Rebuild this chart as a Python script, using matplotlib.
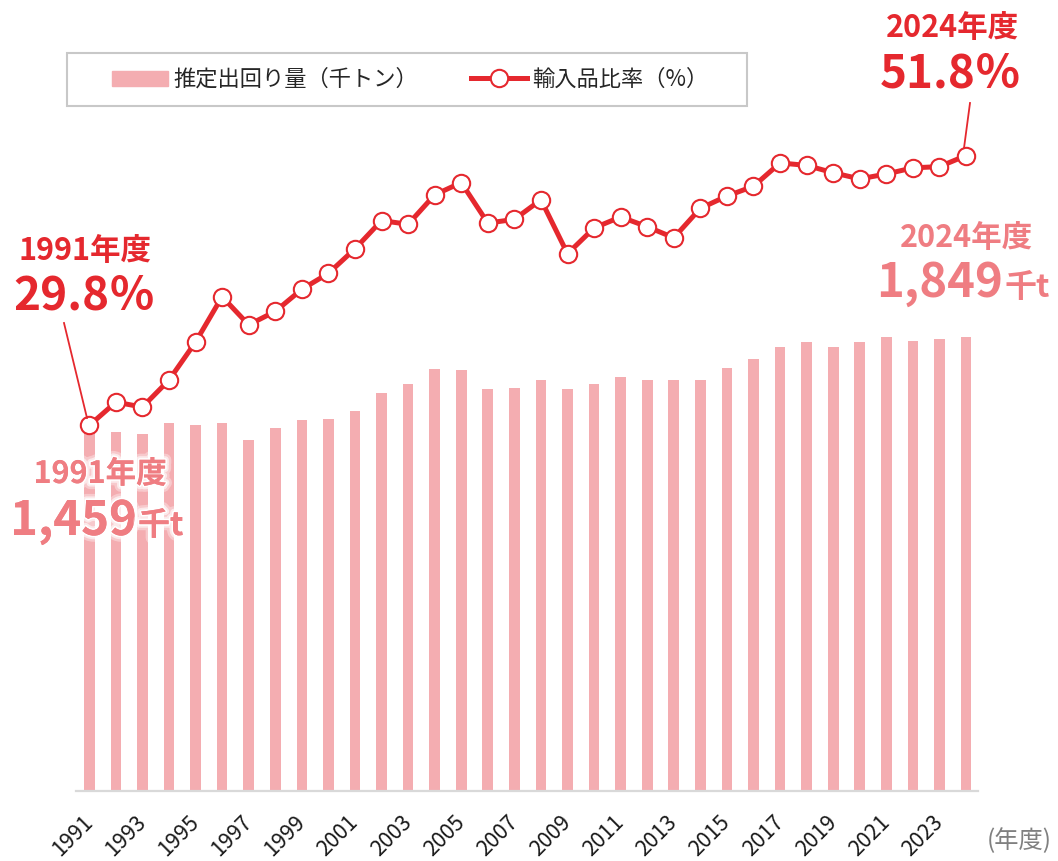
import matplotlib
matplotlib.use("Agg")
import matplotlib.pyplot as plt
import matplotlib.patheffects as pe
from matplotlib.patches import Rectangle, Patch
from matplotlib.lines import Line2D

plt.rcParams['font.family'] = ['Noto Sans CJK JP', 'DejaVu Sans']

#************************************
# Data
#************************************
years = list(range(1991, 2025))
shipment = [1459, 1465, 1457, 1499, 1490, 1502, 1431, 1480, 1511, 1516,
            1548, 1622, 1661, 1720, 1716, 1637, 1642, 1675, 1638, 1661,
            1688, 1675, 1675, 1675, 1723, 1762, 1811, 1829, 1811, 1829,
            1850, 1834, 1842, 1849]
import_ratio = [29.8, 31.7, 31.3, 33.5, 36.6, 40.3, 38.0, 39.1, 40.9, 42.2,
                44.2, 46.5, 46.2, 48.6, 49.6, 46.3, 46.6, 48.2, 43.8, 45.9,
                46.8, 46.0, 45.1, 47.5, 48.5, 49.3, 51.2, 51.0, 50.4, 49.9,
                50.3, 50.8, 50.9, 51.8]
tick_years = years[::2][:17]
bar_label = '推定出回り量（千トン）'
line_label = '輸入品比率（%）'

RED = '#E5282E'
PINK_BAR = '#F4ADB1'
PINK_TXT = '#EF7D82'

W, H = 1058, 861
fig = plt.figure(figsize=(W/100, H/100), dpi=100)
ax = fig.add_axes([76/W, 1-791/H, (978-76)/W, (791-55)/H])

ax.bar(years, shipment, width=0.4, color=PINK_BAR, zorder=2)
ax.set_xlim(1990.5, 2024.45)
ax.set_ylim(0, 3000)
for s in ['top', 'right', 'left']:
    ax.spines[s].set_visible(False)
ax.spines['bottom'].set_color('#d9d9d9')
ax.spines['bottom'].set_linewidth(1.6)
ax.set_yticks([])
ax.set_xticks(tick_years)
ax.set_xticklabels([str(y) for y in tick_years], rotation=45, ha='right',
                   va='center', rotation_mode='anchor',
                   fontsize=15.5, color='#1a1a1a')
ax.tick_params(axis='x', length=0, pad=20)

ax2 = ax.twinx()
ax2.plot(years, import_ratio, color=RED, lw=3.6, marker='o', ms=12.5,
         mfc='white', mec=RED, mew=1.5, zorder=3)
ax2.set_ylim(0, 60)
ax2.axis('off')

def fx(x):
    return x / W

def fy(y):
    return 1 - y / H

# legend frame
fig.patches.append(Rectangle((fx(67), fy(106)), (747-67)/W, (106-53)/H,
                             transform=fig.transFigure, fill=False,
                             edgecolor='#c8c8c8', lw=1.5))
handles = [Patch(color=PINK_BAR),
           Line2D([], [], color=RED, lw=3.6, marker='o', ms=12.5,
                  mfc='white', mec=RED, mew=1.5)]
fig.legend(handles, [bar_label, line_label], ncol=2, frameon=False,
           loc='center left', bbox_to_anchor=(fx(101), fy(79.5)),
           fontsize=16, handlelength=2.5, handleheight=0.65,
           handletextpad=0.25, columnspacing=2.4, borderpad=0,
           labelcolor='#262626')

# annotations
def glow(w):
    return [pe.withStroke(linewidth=w*2.2, foreground='white', alpha=0.35),
            pe.withStroke(linewidth=w*1.3, foreground='white', alpha=0.6),
            pe.withStroke(linewidth=w*0.6, foreground='white', alpha=1.0),
            pe.Normal()]

fig.text(fx(85), fy(260), '1991年度', ha='center', va='baseline',
         fontsize=22, fontweight='bold', color=RED)
fig.text(fx(84), fy(310), '29.8％', ha='center', va='baseline',
         fontsize=33, fontweight='bold', color=RED)
fig.lines.append(Line2D([fx(64), fx(87)], [fy(323), fy(418)],
                        transform=fig.transFigure, color=RED, lw=1.3))

fig.text(fx(952), fy(37), '2024年度', ha='center', va='baseline',
         fontsize=22, fontweight='bold', color=RED)
fig.text(fx(951), fy(88), '51.8％', ha='center', va='baseline',
         fontsize=33, fontweight='bold', color=RED)
fig.lines.append(Line2D([fx(970), fx(964)], [fy(103), fy(148)],
                        transform=fig.transFigure, color=RED, lw=1.3))

fig.text(fx(100), fy(483), '1991年度', ha='center', va='baseline',
         fontsize=22, fontweight='bold', color=PINK_TXT, path_effects=glow(4))
fig.text(fx(137), fy(535), '1,459', ha='right', va='baseline',
         fontsize=34, fontweight='bold', color=PINK_TXT, path_effects=glow(4))
fig.text(fx(138), fy(535), '千t', ha='left', va='baseline',
         fontsize=23, fontweight='bold', color=PINK_TXT, path_effects=glow(4))

fig.text(fx(966), fy(247), '2024年度', ha='center', va='baseline',
         fontsize=22, fontweight='bold', color=PINK_TXT)
fig.text(fx(1003), fy(297), '1,849', ha='right', va='baseline',
         fontsize=34, fontweight='bold', color=PINK_TXT)
fig.text(fx(1004), fy(297), '千t', ha='left', va='baseline',
         fontsize=23, fontweight='bold', color=PINK_TXT)

fig.text(fx(1019), fy(841), '(年度)', ha='center', va='center',
         fontsize=17.5, color='#808080')

fig.savefig('out.png', dpi=100)
